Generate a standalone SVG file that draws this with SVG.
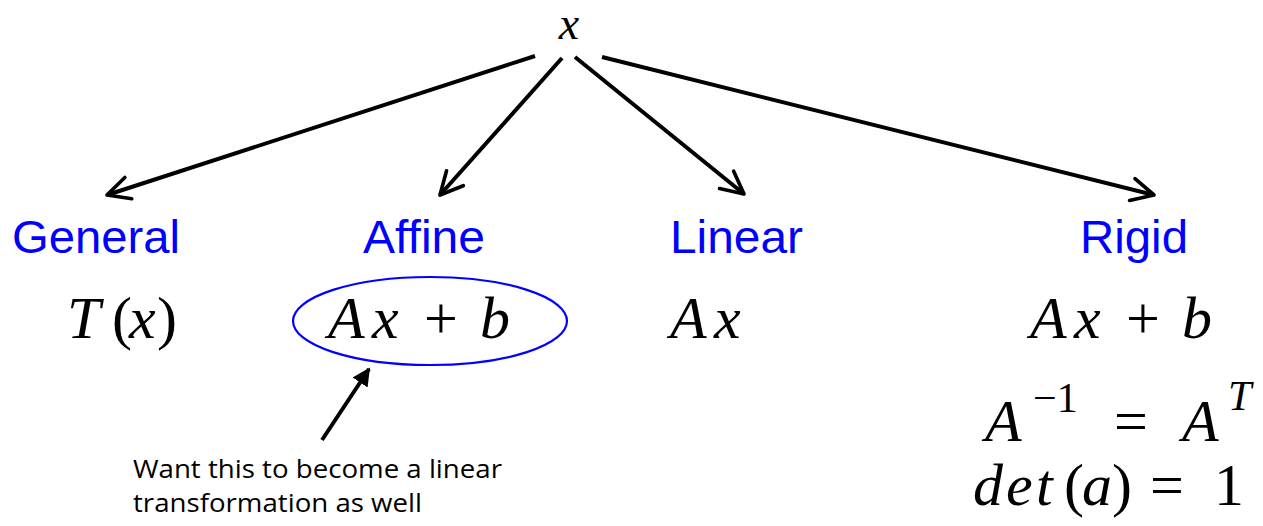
<svg xmlns="http://www.w3.org/2000/svg" width="1263" height="526" viewBox="0 0 1263 526">
<defs>
<marker id="open" viewBox="0 0 20 20" refX="18" refY="10" markerWidth="7" markerHeight="7" markerUnits="strokeWidth" orient="auto">
<path d="M2,2 L18,10 L2,18" fill="none" stroke="#000" stroke-width="2.6" stroke-linecap="round" stroke-linejoin="round"/>
</marker>
<marker id="solid" viewBox="0 0 10 10" refX="9" refY="5" markerWidth="4.5" markerHeight="4.5" markerUnits="strokeWidth" orient="auto">
<path d="M0,0 L10,5 L0,10 Z" fill="#000"/>
</marker>
</defs>
<style>
.lbl{font-family:"Liberation Sans",Arial,sans-serif;font-size:46px;fill:#0000FF}
.m{font-family:"Liberation Serif","Times New Roman",serif;fill:#000;font-size:60px}
.i{font-style:italic}
.note{font-family:"Open Sans","Noto Sans",sans-serif;font-size:25px;fill:#000}
.arr{stroke:#000;stroke-width:4;fill:none}
</style>
<g id="root"><text class="m i" x="569" y="39" style="font-size:46px" text-anchor="middle">x</text></g>
<g id="connectors">
<line class="arr" x1="535" y1="56" x2="107" y2="195" marker-end="url(#open)"/>
<line class="arr" x1="562" y1="58" x2="440" y2="195" marker-end="url(#open)"/>
<line class="arr" x1="575" y1="57" x2="744" y2="194" marker-end="url(#open)"/>
<line class="arr" x1="602" y1="57" x2="1154" y2="195" marker-end="url(#open)"/>
<line x1="322" y1="440" x2="369" y2="369" stroke="#000" stroke-width="4" marker-end="url(#solid)"/>
</g>
<g id="general">
<text class="lbl" x="12" y="253" textLength="168" lengthAdjust="spacingAndGlyphs">General</text>
<text class="m" y="338"><tspan class="i" x="67">T</tspan><tspan x="112">(</tspan><tspan class="i" x="129">x</tspan><tspan x="157">)</tspan></text>
</g>
<g id="affine">
<text class="lbl" x="363" y="253" textLength="122" lengthAdjust="spacingAndGlyphs">Affine</text>
<ellipse cx="430" cy="321" rx="137" ry="44" fill="none" stroke="#0000FF" stroke-width="2.2"/>
<text class="m" y="338"><tspan class="i" x="328">A</tspan><tspan class="i" x="372">x</tspan><tspan x="424">+</tspan><tspan class="i" x="480">b</tspan></text>
</g>
<g id="linear">
<text class="lbl" x="670" y="253" textLength="133" lengthAdjust="spacingAndGlyphs">Linear</text>
<text class="m" y="338"><tspan class="i" x="670">A</tspan><tspan class="i" x="714">x</tspan></text>
</g>
<g id="rigid">
<text class="lbl" x="1080" y="253" textLength="108" lengthAdjust="spacingAndGlyphs">Rigid</text>
<text class="m" y="338"><tspan class="i" x="1030">A</tspan><tspan class="i" x="1074">x</tspan><tspan x="1126">+</tspan><tspan class="i" x="1182">b</tspan></text>
<text class="m i" x="985" y="441">A</text>
<text class="m" x="1033" y="412" style="font-size:42px">−1</text>
<text class="m" x="1114" y="441">=</text>
<text class="m i" x="1182" y="441">A</text>
<text class="m i" x="1228" y="410" style="font-size:42px">T</text>
<text class="m" y="505"><tspan class="i" x="973">d</tspan><tspan class="i" x="1006">e</tspan><tspan class="i" x="1036">t</tspan><tspan x="1064">(</tspan><tspan class="i" x="1082">a</tspan><tspan x="1112">)</tspan><tspan x="1150">=</tspan><tspan x="1214">1</tspan></text>
</g>
<g id="note">
<text class="note" x="133" y="478" textLength="369" lengthAdjust="spacingAndGlyphs">Want this to become a linear</text>
<text class="note" x="133" y="512" textLength="289" lengthAdjust="spacingAndGlyphs">transformation as well</text>
</g>
</svg>
